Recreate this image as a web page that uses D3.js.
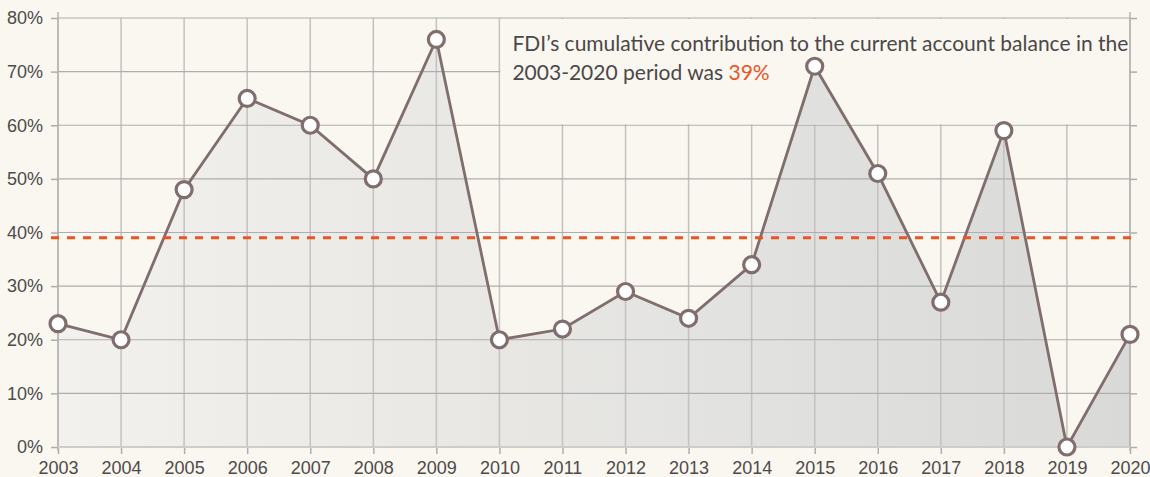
<!DOCTYPE html>
<html>
<head>
<meta charset="utf-8">
<script src="https://cdn.jsdelivr.net/npm/d3@7"></script>
<style>
  body { margin: 0; background: #faf6f0; }
  svg { display: block; font-family: "Lato", "Open Sans", sans-serif; }
</style>
</head>
<body>
<div id="chart"></div>
<script>
// data
var years = [2003, 2004, 2005, 2006, 2007, 2008, 2009, 2010, 2011, 2012,
             2013, 2014, 2015, 2016, 2017, 2018, 2019, 2020];
var share = [23, 20, 48, 65, 60, 50, 76, 20, 22, 29,
             24, 34, 71, 51, 27, 59, 0, 21];
var yTicks = [0, 10, 20, 30, 40, 50, 60, 70, 80];
var average = 39;
var noteLines = ["FDI\u2019s cumulative contribution to the current account balance in the",
                 "2003-2020 period was "];
var noteValue = "39%";

var width = 1150, height = 477;
var margin = {top: 18, right: 20, bottom: 30, left: 58};

var svg = d3.select("#chart").append("svg")
    .attr("width", width)
    .attr("height", height);

svg.append("rect")
    .attr("width", width).attr("height", height)
    .attr("fill", "#faf6f0");

var x = d3.scaleLinear()
    .domain([2003, 2020])
    .range([margin.left, width - margin.right]);

var y = d3.scaleLinear()
    .domain([0, 80])
    .range([height - margin.bottom, margin.top]);

var data = years.map(function(d, i) { return {year: d, v: share[i]}; });

// gradient for the area
var defs = svg.append("defs");
var grad = defs.append("linearGradient")
    .attr("id", "areaFill")
    .attr("x1", "0%").attr("y1", "0%")
    .attr("x2", "100%").attr("y2", "0%");
grad.append("stop").attr("offset", "0%").attr("stop-color", "#f2f1ed");
grad.append("stop").attr("offset", "100%").attr("stop-color", "#d9d9d8");

var area = d3.area()
    .x(function(d) { return x(d.year); })
    .y0(y(0))
    .y1(function(d) { return y(d.v); });

var line = d3.line()
    .x(function(d) { return x(d.year); })
    .y(function(d) { return y(d.v); });

svg.append("path")
    .datum(data)
    .attr("d", area)
    .attr("fill", "url(#areaFill)");

// grid
var grid = svg.append("g");
grid.selectAll(".vgrid")
    .data(years)
    .enter().append("line")
    .attr("x1", function(d) { return x(d); })
    .attr("x2", function(d) { return x(d); })
    .attr("y1", y(0))
    .attr("y2", y(80))
    .attr("stroke", "#c4c2c0")
    .attr("stroke-width", 1.5);

grid.selectAll(".hgrid")
    .data(yTicks)
    .enter().append("line")
    .attr("x1", x(2003))
    .attr("x2", x(2020))
    .attr("y1", function(d) { return y(d); })
    .attr("y2", function(d) { return y(d); })
    .attr("stroke", "#aeaeae")
    .attr("stroke-width", 1.2);

// annotation box hides the grid behind the text
var box = {x0: x(2010) + 1, x1: x(2020) - 1, y0: y(80) + 1, y1: y(60) - 1};
defs.append("clipPath").attr("id", "boxClip")
  .append("rect")
    .attr("x", box.x0).attr("y", box.y0)
    .attr("width", box.x1 - box.x0).attr("height", box.y1 - box.y0);

svg.append("rect")
    .attr("x", box.x0).attr("y", box.y0)
    .attr("width", box.x1 - box.x0).attr("height", box.y1 - box.y0)
    .attr("fill", "#faf6f0");

svg.append("path")
    .datum(data)
    .attr("d", area)
    .attr("fill", "url(#areaFill)")
    .attr("clip-path", "url(#boxClip)");

// axes
var yAxisL = d3.axisLeft(y).tickValues(yTicks).tickSize(7).tickPadding(8)
    .tickFormat(function(d) { return d + "%"; });
var yAxisR = d3.axisRight(y).tickValues(yTicks).tickSize(7).tickFormat("");
var xAxis = d3.axisBottom(x).tickValues(years).tickSize(7).tickPadding(7)
    .tickFormat(d3.format("d"));

function styleAxis(g) {
  g.select(".domain").remove();
  g.selectAll(".tick line").attr("stroke", "#aeaeae").attr("stroke-width", 1.5);
  g.selectAll("text").attr("fill", "#4d4b4b").style("font-size", "18px");
}

svg.append("g").attr("transform", "translate(" + x(2003) + ",0)")
    .call(yAxisL).call(styleAxis);
svg.append("g").attr("transform", "translate(" + x(2020) + ",0)")
    .call(yAxisR).call(styleAxis);
svg.append("g").attr("transform", "translate(0," + y(0) + ")")
    .call(xAxis).call(styleAxis);

// axis lines
svg.append("line")
    .attr("x1", x(2003)).attr("x2", x(2003))
    .attr("y1", y(0) + 4).attr("y2", y(80) - 6)
    .attr("stroke", "#b5b3b1").attr("stroke-width", 1.5);
svg.append("line")
    .attr("x1", x(2020)).attr("x2", x(2020))
    .attr("y1", y(0) + 4).attr("y2", y(80) - 6)
    .attr("stroke", "#b5b3b1").attr("stroke-width", 1.5);
svg.append("line")
    .attr("x1", x(2003)).attr("x2", x(2020))
    .attr("y1", y(0)).attr("y2", y(0))
    .attr("stroke", "#cfccc9").attr("stroke-width", 2);

// data line
svg.append("path")
    .datum(data)
    .attr("d", line)
    .attr("fill", "none")
    .attr("stroke", "#806d6d")
    .attr("stroke-width", 2.8);

// average line
svg.append("line")
    .attr("x1", x(2003) - 7).attr("x2", x(2020) + 7)
    .attr("y1", y(average)).attr("y2", y(average))
    .attr("stroke", "#ea5425")
    .attr("stroke-width", 3)
    .attr("stroke-dasharray", "8,8");

// markers
svg.selectAll(".dot")
    .data(data)
    .enter().append("circle")
    .attr("cx", function(d) { return x(d.year); })
    .attr("cy", function(d) { return y(d.v); })
    .attr("r", 8)
    .attr("fill", "#ffffff")
    .attr("stroke", "#806d6d")
    .attr("stroke-width", 3.2);

// annotation
var note = svg.append("text")
    .attr("x", x(2010) + 13)
    .attr("y", 51)
    .attr("fill", "#4a4848")
    .style("font-size", "21px");
note.append("tspan").text(noteLines[0]);
var l2 = note.append("tspan").attr("x", x(2010) + 13).attr("dy", 29);
l2.text(noteLines[1]);
note.append("tspan").attr("fill", "#ea5425").text(noteValue);
</script>
</body>
</html>
